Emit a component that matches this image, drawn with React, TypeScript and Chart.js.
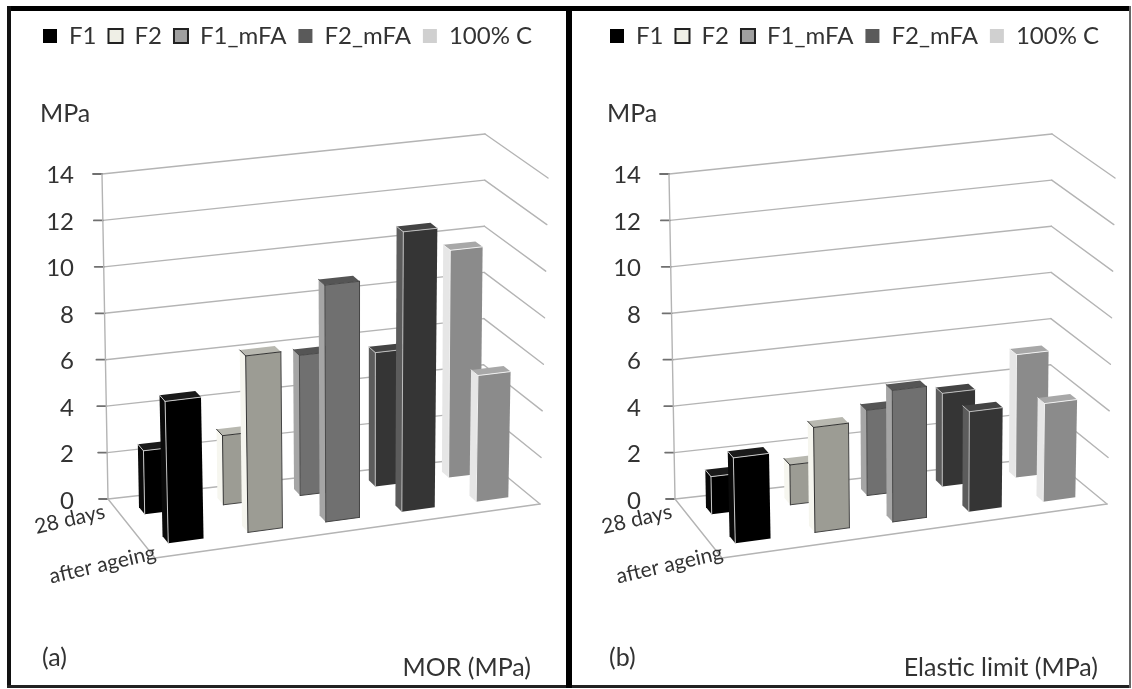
import React, { useEffect, useRef } from "react";
import { Chart, registerables } from "chart.js";

Chart.register(...registerables);

const FONT = "Lato, 'Open Sans', sans-serif";
const TEXT = "#333333";

const seriesNames = ["F1", "F2", "F1_mFA", "F2_mFA", "100% C"];
const depthLabels = ["28 days", "after ageing"];
const yTicks = [0, 2, 4, 6, 8, 10, 12, 14];

const morDays28 = [2.7, 2.95, 6.0, 5.75, 9.8];
const morAgeing = [5.9, 7.4, 10.0, 11.9, 5.4];
const elasticDays28 = [1.6, 1.7, 3.65, 4.0, 5.3];
const elasticAgeing = [3.55, 4.4, 5.55, 4.25, 4.2];

const legendFill = ["#000000", "#efefe6", "#a0a0a0", "#5a5a5a", "#d0d0d0"];
const legendEdge = ["#000000", "#222222", "#222222", "#5a5a5a", "#d0d0d0"];
const legendEdgeWidth = [0, 2, 2, 0, 0];
const sideFace = ["#0a0a0a", "#f6f6ef", "#a5a5a5", "#5c5c5c", "#e6e6e6"];
const frontFace = ["#000000", "#9c9c94", "#707070", "#353535", "#8b8b8b"];
const topFace = ["#1a1a1a", "#b8b8b0", "#555555", "#444444", "#a8a8a8"];
const edgeLine = ["#c8c8c8", "#333333", "#4a4a4a", "#bdbdbd", "#f0f0f0"];

// perspective frame of the 3D box, in canvas pixels
const floorQuad = { bl: [108, 499], br: [483, 457], fr: [540, 504], fl: [155, 558] };
const topQuad = { bl: [102, 174], br: [485, 134], fr: [548, 178], fl: [146, 218] };
const depthCentre = [0.245, 0.74];
const depthHalf = 0.06;
const barHalf = 0.22;
const warpK = 0.06;

const lerp = (a: number, b: number, f: number) => a + (b - a) * f;
const bilinear = (q: any, u: number, d: number) => {
  const bx = lerp(q.bl[0], q.br[0], u), by = lerp(q.bl[1], q.br[1], u);
  const fx = lerp(q.fl[0], q.fr[0], u), fy = lerp(q.fl[1], q.fr[1], u);
  return [lerp(bx, fx, d), lerp(by, fy, d)];
};
const project = (u: number, d: number, t: number) => {
  const a = bilinear(floorQuad, u, d), b = bilinear(topQuad, u, d);
  return [lerp(a[0], b[0], t), lerp(a[1], b[1], t)];
};
const warp = (u: number) => ((1 + warpK) * u) / (1 + warpK * u);

const poly = (ctx: any, pts: number[][], fill: string) => {
  ctx.beginPath();
  pts.forEach((p, i) => (i ? ctx.lineTo(p[0], p[1]) : ctx.moveTo(p[0], p[1])));
  ctx.closePath();
  ctx.fillStyle = fill;
  ctx.fill();
};
const seg = (ctx: any, a: number[], b: number[], color: string, w: number) => {
  ctx.beginPath();
  ctx.moveTo(a[0], a[1]);
  ctx.lineTo(b[0], b[1]);
  ctx.strokeStyle = color;
  ctx.lineWidth = w;
  ctx.stroke();
};

const box3d = {
  id: "box3d",
  afterLayout(chart: any) {
    if (chart.titleBlock) chart.titleBlock.left = 40;
  },
  beforeDatasetDraw() {
    return false;
  },
  beforeDatasetsDraw(chart: any) {
    const { ctx, scales } = chart;
    const yS = scales.y, sS = scales.s;
    const tOf = (v: number) => (yS.bottom - yS.getPixelForValue(v)) / (yS.bottom - yS.top);
    const uOf = (s: number) => warp((sS.getPixelForValue(s) - sS.left) / (sS.right - sS.left));
    ctx.save();
    ctx.lineCap = "round";
    const grid = "#b4b4b4";
    yTicks.forEach((v) => {
      const t = tOf(v);
      const a = project(0, 0, t), b = project(1, 0, t), c = project(1, 1, t);
      seg(ctx, a, b, grid, 1.4);
      seg(ctx, b, c, grid, 1.4);
      seg(ctx, [a[0] - 9, a[1]], a, "#707070", 1.8);
    });
    seg(ctx, project(0, 0, 0), project(0, 0, 1), grid, 1.4);
    seg(ctx, project(0, 0, 0), project(0, 1, 0), grid, 1.4);
    seg(ctx, project(0, 1, 0), project(1, 1, 0), grid, 1.4);

    [0, 1].forEach((row) => {
      const df = depthCentre[row] + depthHalf, db = depthCentre[row] - depthHalf;
      chart.data.datasets.forEach((ds: any, i: number) => {
        const t = tOf(ds.data[row]);
        const u0 = uOf(i + 0.5 - barHalf), u1 = uOf(i + 0.5 + barHalf);
        const fl0 = project(u0, df, 0), fr0 = project(u1, df, 0);
        const fl1 = project(u0, df, t), fr1 = project(u1, df, t);
        const bl0 = project(u0, db, 0), bl1 = project(u0, db, t), br1 = project(u1, db, t);
        poly(ctx, [bl0, fl0, fl1, bl1], sideFace[i]);
        poly(ctx, [fl0, fr0, fr1, fl1], frontFace[i]);
        poly(ctx, [bl1, fl1, fr1, br1], topFace[i]);
        seg(ctx, fl0, fl1, edgeLine[i], 1);
        seg(ctx, fl1, fr1, edgeLine[i], 1);
        seg(ctx, fl1, bl1, edgeLine[i], 1);
        if (i === 1 || i === 2) {
          seg(ctx, fr0, fr1, "#444444", 1);
          seg(ctx, fl0, fr0, "#444444", 1);
        }
      });
    });

    ctx.fillStyle = TEXT;
    ctx.font = `21px ${FONT}`;
    ctx.textAlign = "right";
    ctx.textBaseline = "alphabetic";
    const labelAt = [[106, 518], [157, 559]];
    depthLabels.forEach((txt, k) => {
      ctx.save();
      ctx.translate(labelAt[k][0], labelAt[k][1]);
      ctx.rotate((-13 * Math.PI) / 180);
      ctx.fillText(txt, 0, 0);
      ctx.restore();
    });
    ctx.font = `25px ${FONT}`;
    ctx.textAlign = "left";
    ctx.fillText(chart.options.plugins.box3d.tag, 42, 666);
    ctx.textAlign = "right";
    ctx.fillText(chart.options.plugins.box3d.caption, 531, 676);
    ctx.restore();
  },
};

function Panel({ left, days28, ageing, tag, caption }: any) {
  const ref = useRef<HTMLCanvasElement | null>(null);
  useEffect(() => {
    const chart = new Chart(ref.current as any, {
      type: "bar",
      data: {
        labels: depthLabels,
        datasets: seriesNames.map((name, i) => ({
          label: name,
          data: [days28[i], ageing[i]],
          backgroundColor: legendFill[i],
          borderColor: legendEdge[i],
          borderWidth: legendEdgeWidth[i],
        })),
      },
      options: {
        animation: false,
        responsive: false,
        layout: { padding: { top: 12, left: 31, right: 0, bottom: 190 } },
        scales: {
          x: { display: false },
          s: { type: "linear", axis: "x", position: "bottom", min: 0, max: 5, offset: false, display: false },
          y: {
            min: 0,
            max: 14,
            ticks: {
              stepSize: 2,
              padding: 34,
              labelOffset: 2,
              color: TEXT,
              font: { family: FONT, size: 24 },
            },
            grid: { display: false, drawTicks: false },
            border: { display: false },
            afterFit: (scale: any) => {
              scale.width = 77;
            },
          },
        },
        plugins: {
          tooltip: { enabled: false },
          legend: {
            position: "top",
            align: "start",
            weight: 3000,
            labels: {
              boxWidth: 14,
              boxHeight: 14,
              padding: 12,
              color: TEXT,
              font: { family: FONT, size: 24 },
            },
          },
          title: {
            display: true,
            text: "MPa",
            align: "start",
            weight: 500,
            color: TEXT,
            font: { family: FONT, size: 25, weight: "normal" },
            padding: { top: 40.6, bottom: 45 },
          },
          box3d: { tag, caption },
        },
      } as any,
      plugins: [box3d],
    });
    return () => chart.destroy();
  }, []);
  return (
    <canvas
      ref={ref}
      width={566}
      height={689}
      style={{ position: "absolute", left, top: 0, width: 566, height: 689, filter: "blur(0.5px)" }}
    />
  );
}

const bar = (s: any) => <div style={{ position: "absolute", ...s }} />;

export default function App() {
  return (
    <div style={{ position: "fixed", left: 0, top: 0, width: 1132, height: 689, background: "#fff", overflow: "hidden" }}>
      {bar({ left: 7, top: 6, width: 1124, height: 5, background: "#000" })}
      {bar({ left: 7, top: 6, width: 4, height: 682, background: "#111" })}
      {bar({ left: 7, top: 685, width: 1124, height: 3, background: "#222" })}
      {bar({ left: 566, top: 6, width: 6, height: 682, background: "#000" })}
      {bar({ left: 1129, top: 6, width: 2, height: 682, background: "#666" })}
      <Panel left={0} days28={morDays28} ageing={morAgeing} tag="(a)" caption="MOR (MPa)" />
      <Panel left={567} days28={elasticDays28} ageing={elasticAgeing} tag="(b)" caption="Elastic limit (MPa)" />
    </div>
  );
}
